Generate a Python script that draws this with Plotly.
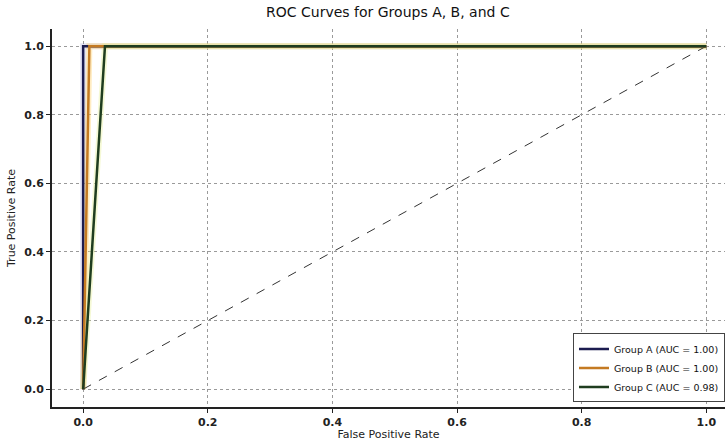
import plotly.graph_objects as go

fpr_a = [0.0, 0.0, 1.0]
tpr_a = [0.0, 1.0, 1.0]
fpr_b = [0.0, 0.01, 1.0]
tpr_b = [0.0, 1.0, 1.0]
fpr_c = [0.0, 0.035, 1.0]
tpr_c = [0.0, 1.0, 1.0]
names = ["Group A (AUC = 1.00)", "Group B (AUC = 1.00)", "Group C (AUC = 0.98)"]
colors = ["#1c1c50", "#c47a22", "#1f3d1f"]
glow = ["rgba(120,120,200,0.2)", "rgba(255,200,80,0.35)", "rgba(230,240,150,0.4)"]
diag_x = [0.0, 1.0]
diag_y = [0.0, 1.0]
ticks = [0.0, 0.2, 0.4, 0.6, 0.8, 1.0]
tick_labels = ["0.0", "0.2", "0.4", "0.6", "0.8", "1.0"]

fig = go.Figure()
data = [(fpr_a, tpr_a), (fpr_b, tpr_b), (fpr_c, tpr_c)]
for (x, y), g in zip(data, glow):
    fig.add_trace(go.Scatter(x=x, y=y, mode="lines", line=dict(color=g, width=6),
                             showlegend=False, hoverinfo="skip"))
fig.add_trace(go.Scatter(x=diag_x, y=diag_y, mode="lines",
                         line=dict(color="#333333", width=1, dash="dash"),
                         showlegend=False))
for (x, y), n, c in zip(data, names, colors):
    fig.add_trace(go.Scatter(x=x, y=y, mode="lines", name=n,
                             line=dict(color=c, width=2.5)))

axis_common = dict(
    showgrid=True, gridcolor="#9a9a9a", griddash="dot", gridwidth=1,
    zeroline=False, showline=True, linecolor="#222222", linewidth=2,
    ticks="outside", ticklen=4, tickcolor="#222222",
    tickvals=ticks, ticktext=tick_labels, automargin=False,
    tickfont=dict(family="DejaVu Sans", size=11, color="#222222", weight="bold"),
)

fig.update_layout(
    width=725, height=441,
    margin=dict(l=52, r=0, t=29, b=34),
    paper_bgcolor="white", plot_bgcolor="white",
    title=dict(text="ROC Curves for Groups A, B, and C", x=0.535, xanchor="center",
               y=0.972, yanchor="middle",
               font=dict(family="DejaVu Sans", size=14, color="#111111")),
    xaxis=dict(range=[-0.05, 1.03],
               title=dict(text="False Positive Rate", standoff=2,
                          font=dict(family="DejaVu Sans", size=11, color="#222222")),
               **axis_common),
    yaxis=dict(range=[-0.052, 1.05],
               title=dict(text="True Positive Rate", standoff=6,
                          font=dict(family="DejaVu Sans", size=11, color="#222222")),
               **axis_common),
    legend=dict(x=1.0, y=0.012, xanchor="right", yanchor="bottom",
                bgcolor="white", bordercolor="#444444", borderwidth=1,
                font=dict(family="DejaVu Sans", size=9.5, color="#111111"),
                tracegroupgap=0, itemwidth=30),
    showlegend=True,
)

fig.write_html("out.html", config={"displayModeBar": False},
               post_script="document.body.style.margin='0px';")
